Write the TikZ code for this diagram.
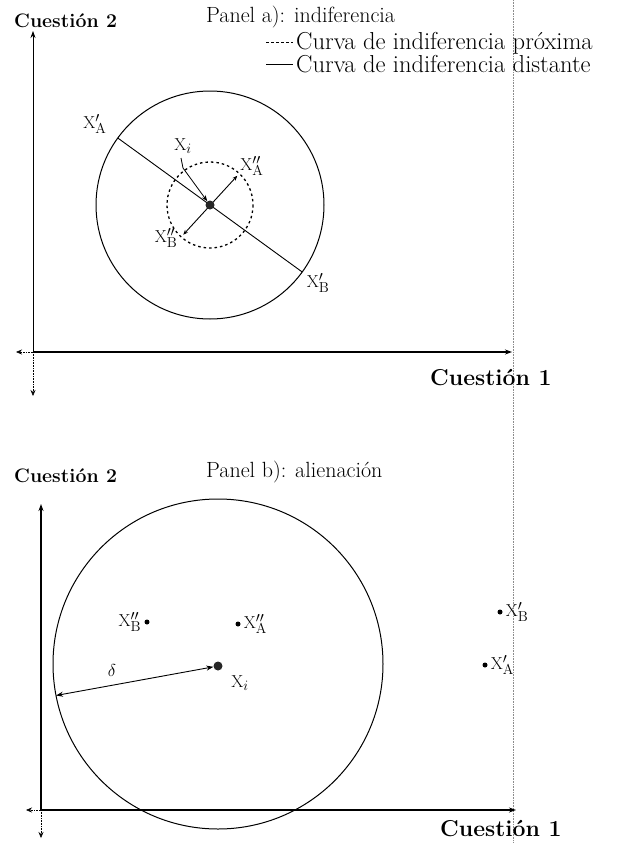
\documentclass[tikz,border=0pt]{standalone}
\usetikzlibrary{arrows.meta}
\begin{document}
\begin{tikzpicture}[x=1pt,y=-1pt,
  lbl/.style={font=\fontsize{19}{23}\selectfont, inner sep=0pt},
  leg/.style={font=\fontsize{24.5}{28}\selectfont, inner sep=0pt},
  ptl/.style={font=\fontsize{22}{26}\selectfont, inner sep=0pt},
  ttl/.style={font=\bfseries\fontsize{19.5}{23}\selectfont, inner sep=0pt},
  ttlx/.style={font=\bfseries\fontsize{23}{27}\selectfont, inner sep=0pt},
  axisarrow/.style={line width=1.1pt, -{Stealth[length=7pt,width=5pt]}},
  stubarrow/.style={line width=0.6pt, densely dotted, -{Stealth[length=6pt,width=5pt]}},
  smalldot/.style={circle, fill=black, inner sep=0pt, minimum size=5pt},
  bigdot/.style={circle, fill=black!85, inner sep=0pt, minimum size=9pt},
  ptr/.style={line width=0.8pt, -{Stealth[length=6pt,width=4.5pt]}}]
\useasboundingbox (0,0) rectangle (620,843);

% scan fold line
\draw[black!45, densely dotted, line width=0.6pt] (513,0) -- (513,843);

% ================= Panel a =================
\node[ttl, anchor=west] (c2a) at (14,21) {Cuesti\'on 2};
\node[ptl, anchor=west] (pa) at (206,17) {Panel a): indiferencia};
\coordinate (lda) at (266,43);
\coordinate (ldb) at (293,43);
\coordinate (lsa) at (266,64);
\coordinate (lsb) at (293,64);
\draw[dash pattern=on 3pt off 2pt, line width=1pt] (lda) -- (ldb);
\draw[line width=0.9pt] (lsa) -- (lsb);
\node[leg, anchor=west] (l1) at (296,43) {Curva de indiferencia pr\'oxima};
\node[leg, anchor=west] (l2) at (296,64) {Curva de indiferencia distante};

\coordinate (Oa) at (33,352);
\coordinate (aup) at (33,31);
\coordinate (aright) at (512,352);
\coordinate (aleft) at (16,352);
\coordinate (adown) at (33,396);
\draw[line width=0.7pt, -{Stealth[length=7pt,width=5pt]}] (Oa) -- (aup);
\draw[axisarrow] (Oa) -- (aright);
\draw[stubarrow] (Oa) -- (aleft);
\draw[stubarrow] (Oa) -- (adown);
\node[ttlx, anchor=west] (c1a) at (430,378) {Cuesti\'on 1};

\coordinate (ca) at (210,205);
\draw[line width=1pt] (ca) circle[radius=114];
\draw[line width=1.3pt, dash pattern=on 2.5pt off 3pt] (ca) circle[radius=43];
\path (ca) ++(-144:114) coordinate (pA1);
\path (ca) ++(36:114) coordinate (pB1);
\draw[line width=0.9pt] (pA1) -- (pB1);
\path (ca) ++(-47:40) coordinate (pA2);
\path (ca) ++(132:40) coordinate (pB2);
\draw[line width=0.9pt, {Stealth[length=5pt,width=4pt]}-{Stealth[length=5pt,width=4pt]}] (pB2) -- (pA2);
\node[bigdot] (xia) at (ca) {};
\node[lbl] (lA1) at (95,124) {$\mathrm{X}'_{\mathrm{A}}$};
\node[lbl] (lB1) at (318,283) {$\mathrm{X}'_{\mathrm{B}}$};
\node[lbl] (lA2) at (252,166) {$\mathrm{X}''_{\mathrm{A}}$};
\node[lbl] (lB2) at (166,238) {$\mathrm{X}''_{\mathrm{B}}$};
\node[lbl] (lxi) at (183,146) {$\mathrm{X}_{i}$};
\coordinate (pstart) at (181,158);
\coordinate (bend) at (183,168);
\draw[ptr] (pstart) -- (bend) -- (xia);

% ================= Panel b =================
\node[ttl, anchor=west] (c2b) at (14,476) {Cuesti\'on 2};
\node[ptl, anchor=west] (pb) at (206,472) {Panel b): alienaci\'on};

\coordinate (Ob) at (41,810);
\coordinate (bup) at (41,504);
\coordinate (bright) at (516,810);
\coordinate (bleft) at (26,810);
\coordinate (bdown) at (41,838);
\draw[line width=1.3pt, -{Stealth[length=7pt,width=5pt]}] (Ob) -- (bup);
\draw[axisarrow] (Ob) -- (bright);
\draw[stubarrow] (Ob) -- (bleft);
\draw[stubarrow] (Ob) -- (bdown);
\node[ttlx, anchor=west] (c1b) at (440,829) {Cuesti\'on 1};

\coordinate (cb) at (218,664);
\draw[line width=1pt] (cb) circle[radius=165];
\node[bigdot] (xib) at (218,666) {};
\path (cb) ++(169:165) coordinate (edge);
\draw[line width=0.9pt, {Stealth[length=7pt,width=5pt]}-{Stealth[length=7pt,width=5pt]}] (edge) -- (xib);
\node[lbl] (delta) at (112,670) {$\delta$};
\node[lbl] (lxib) at (240,683) {$\mathrm{X}_{i}$};

\node[smalldot] (dB2) at (147,622) {};
\node[lbl, anchor=east] (tB2) at ([xshift=-3pt]dB2.west) {$\mathrm{X}''_{\mathrm{B}}$};
\node[smalldot] (dA2) at (238,624) {};
\node[lbl, anchor=west] (tA2) at ([xshift=3pt]dA2.east) {$\mathrm{X}''_{\mathrm{A}}$};
\node[smalldot] (dB1) at (500,612) {};
\node[lbl, anchor=west] (tB1) at ([xshift=3pt]dB1.east) {$\mathrm{X}'_{\mathrm{B}}$};
\node[smalldot] (dA1) at (485,665) {};
\node[lbl, anchor=west] (tA1) at ([xshift=3pt]dA1.east) {$\mathrm{X}'_{\mathrm{A}}$};
\end{tikzpicture}
\end{document}
